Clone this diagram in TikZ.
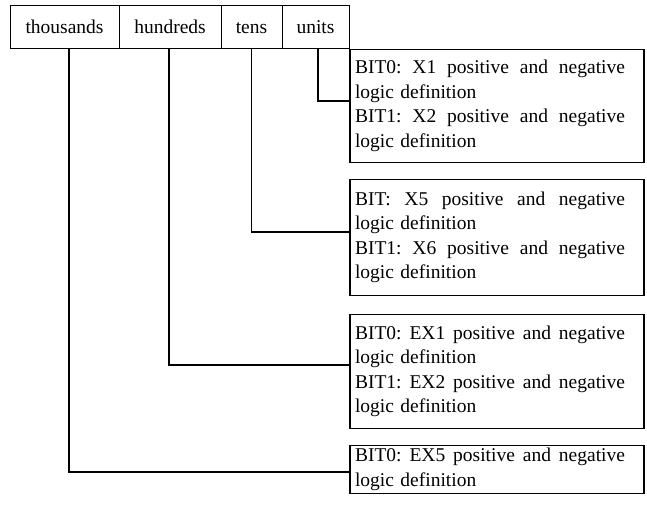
\documentclass[tikz,border=0pt]{standalone}
\usepackage{fontspec}
\setmainfont{Liberation Serif}
\newcommand{\jline}[1]{\leavevmode\hbox to 270pt{#1}}
\begin{document}
\begin{tikzpicture}[x=1pt,y=-1pt,
  cell/.style={draw,line width=1pt,minimum height=43pt,inner sep=0pt,anchor=center,
    text height=15.5pt,text depth=1pt,font=\fontsize{19.5}{24.5}\selectfont},
  descbox/.style={draw,line width=1.5pt,minimum width=294pt,text width=284pt,inner xsep=5pt,
    inner ysep=0pt,align=left,anchor=center,font=\fontsize{19.5}{24.5}\selectfont},
  conn/.style={line width=1.2pt}]
\useasboundingbox (0,0) rectangle (647,506);
\node[cell,minimum width=109pt] (th) at (64.5,26.5) {thousands};
\node[cell,minimum width=102pt] (hu) at (170,26.5) {hundreds};
\node[cell,minimum width=61pt] (te) at (251.5,26.5) {tens};
\node[cell,minimum width=67pt] (un) at (315.5,26.5) {units};

\node[descbox,minimum height=113pt] (b1) at (497,106)
  {\jline{BIT0:\hfill X1\hfill positive\hfill and\hfill negative}\\logic definition\\
   \jline{BIT1:\hfill X2\hfill positive\hfill and\hfill negative}\\logic definition};
\node[descbox,minimum height=116pt] (b2) at (497,237.5)
  {\jline{BIT:\hfill X5\hfill positive\hfill and\hfill negative}\\logic definition\\
   \jline{BIT1:\hfill X6\hfill positive\hfill and\hfill negative}\\logic definition};
\node[descbox,minimum height=114pt] (b3) at (497,371.5)
  {\jline{BIT0:\hfill EX1\hfill positive\hfill and\hfill negative}\\logic definition\\
   \jline{BIT1:\hfill EX2\hfill positive\hfill and\hfill negative}\\logic definition};
\node[descbox,minimum height=48pt] (b4) at (497,469.5)
  {\jline{BIT0:\hfill EX5\hfill positive\hfill and\hfill negative}\\logic definition};

\draw[conn] ([xshift=2.5pt]un.south) |- ([yshift=5pt]b1.west);
\draw[conn] (te.south) |- ([yshift=5.5pt]b2.west);
\draw[conn] ([xshift=-1pt]hu.south) |- ([yshift=6.5pt]b3.west);
\draw[conn] ([xshift=4.5pt]th.south) |- ([yshift=-2.5pt]b4.west);
\end{tikzpicture}
\end{document}
